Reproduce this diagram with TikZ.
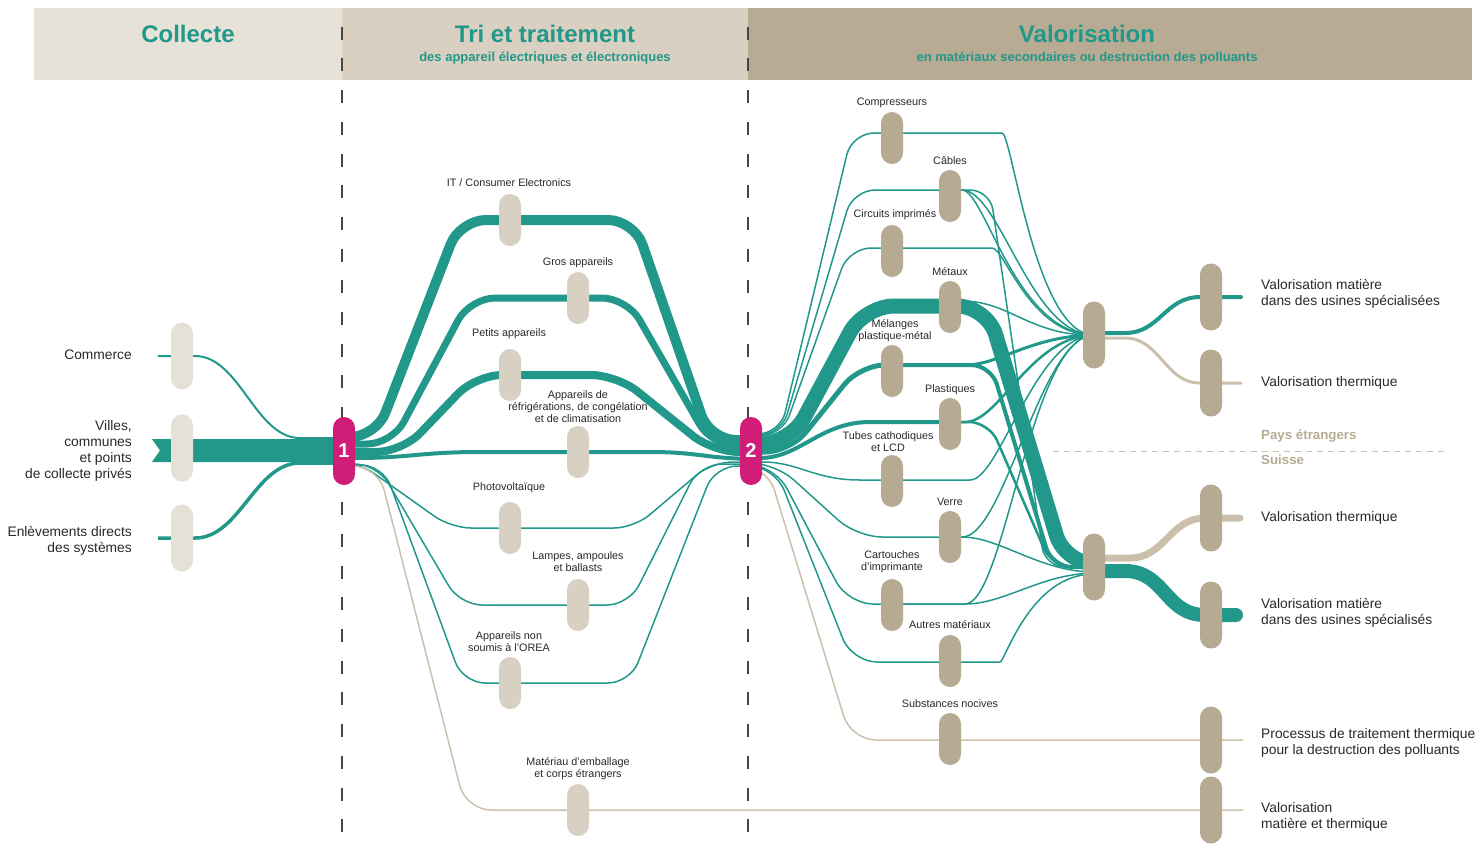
\documentclass[tikz,border=0pt]{standalone}
\usepackage{fontspec}
\setmainfont{Liberation Sans}
\usetikzlibrary{calc}
\definecolor{teal1}{RGB}{33,152,138}
\definecolor{pinkc}{RGB}{208,30,120}
\definecolor{hdA}{RGB}{230,226,215}
\definecolor{hdB}{RGB}{217,208,194}
\definecolor{hdC}{RGB}{184,171,148}
\definecolor{cpA}{RGB}{229,225,215}
\definecolor{cpB}{RGB}{216,208,194}
\definecolor{cpC}{RGB}{183,170,146}
\definecolor{beigeL}{RGB}{203,192,172}
\definecolor{beigeT}{RGB}{184,171,148}
\definecolor{txt}{RGB}{40,40,40}
\definecolor{dashc}{RGB}{70,70,70}
\pgfdeclarelayer{back}
\pgfdeclarelayer{mid}
\pgfsetlayers{back,mid,main}
\begin{document}
\begin{tikzpicture}[x=1pt,y=-1pt,
  pill/.style={rectangle, rounded corners=11pt, minimum width=22pt, minimum height=52pt, inner sep=0pt, draw=none},
  pillA/.style={pill, fill=cpA, minimum height=67pt},
  pillB/.style={pill, fill=cpB},
  pillC/.style={pill, fill=cpC},
  pillK/.style={pill, fill=cpC, minimum height=67pt},
  pinkn/.style={pill, fill=pinkc, minimum height=68pt, text=white, font=\bfseries\fontsize{20}{20}\selectfont},
  tflow/.style={draw=teal1, line width=#1, line join=round},
  tflow/.default=1.5,
  bflow/.style={draw=beigeL, line width=#1, line join=round},
  bflow/.default=1.5,
  slab/.style={font=\fontsize{10.8}{12}\selectfont, text=txt, align=center, inner sep=0pt},
  blabR/.style={font=\fontsize{13.8}{16}\selectfont, text=txt, align=right, anchor=east, inner sep=0pt},
  blabL/.style={font=\fontsize{13.8}{16}\selectfont, text=txt, align=left, anchor=west, inner sep=0pt},
  htitle/.style={font=\bfseries\fontsize{24}{24}\selectfont, text=teal1},
  hsub/.style={font=\bfseries\fontsize{13}{13}\selectfont, text=teal1}
]
\useasboundingbox (0,0) rectangle (1480,847);

% ---------- nodes ----------
\node[pillA] (cCom) at (182,356) {};
\node[pillA] (cVil) at (182,448) {};
\node[pillA] (cEnl) at (182,538) {};
\node[pinkn] (n1) at (344,451) {1};
\node[pinkn] (n2) at (751,451) {2};

\node[pillB] (tIT) at (510,220) {};
\node[pillB] (tGros) at (578,298) {};
\node[pillB] (tPetits) at (510,375) {};
\node[pillB] (tFrigo) at (578,452) {};
\node[pillB] (tPV) at (510,528) {};
\node[pillB] (tLamp) at (578,605) {};
\node[pillB] (tNon) at (510,683) {};
\node[pillB] (tEmb) at (578,810) {};

\node[pillC] (vComp) at (892,138) {};
\node[pillC] (vCab) at (950,196) {};
\node[pillC] (vCirc) at (892,251) {};
\node[pillC] (vMet) at (950,307) {};
\node[pillC] (vMel) at (892,371) {};
\node[pillC] (vPla) at (950,424) {};
\node[pillC] (vTub) at (892,481) {};
\node[pillC] (vVer) at (950,537) {};
\node[pillC] (vCar) at (892,605) {};
\node[pillC] (vAut) at (950,661) {};
\node[pillC] (vSub) at (950,739) {};

\node[pillK] (kUp) at (1094,335) {};
\node[pillK] (kLo) at (1094,567) {};

\node[pillK] (fUp1) at (1211,297) {};
\node[pillK] (fUp2) at (1211,383) {};
\node[pillK] (fLo1) at (1211,518) {};
\node[pillK] (fLo2) at (1211,615) {};
\node[pillK] (fPro) at (1211,740) {};
\node[pillK] (fVal) at (1211,810) {};

% ---------- labels ----------
\node[blabR] (lCom) at (132,355) {Commerce};
\node[blabR] (lVil) at (132,451) {Villes,\\communes\\et points\\de collecte privés};
\node[blabR] (lEnl) at (132,541) {Enlèvements directs\\des systèmes};

\node[slab] (lIT) at (509,183) {IT / Consumer Electronics};
\node[slab] (lGros) at (578,263) {Gros appareils};
\node[slab] (lPetits) at (509,334) {Petits appareils};
\node[slab] (lFrigo) at (578,407) {Appareils de\\réfrigérations, de congélation\\et de climatisation};
\node[slab] (lPV) at (509,488) {Photovoltaïque};
\node[slab] (lLamp) at (578,562) {Lampes, ampoules\\et ballasts};
\node[slab] (lNon) at (509,642) {Appareils non\\soumis à l’OREA};
\node[slab] (lEmb) at (578,769) {Matériau d’emballage\\et corps étrangers};

\node[slab] (lComp) at (892,103) {Compresseurs};
\node[slab] (lCab) at (950,161) {Câbles};
\node[slab] (lCirc) at (895,215) {Circuits imprimés};
\node[slab] (lMet) at (950,272) {Métaux};
\node[slab] (lMel) at (895,331) {Mélanges\\plastique-métal};
\node[slab] (lPla) at (950,390) {Plastiques};
\node[slab] (lTub) at (888,442) {Tubes cathodiques\\et LCD};
\node[slab] (lVer) at (950,502) {Verre};
\node[slab] (lCar) at (892,562) {Cartouches\\d’imprimante};
\node[slab] (lAut) at (950,625) {Autres matériaux};
\node[slab] (lSub) at (950,704) {Substances nocives};

\node[blabL] (rUp1) at (1261,294) {Valorisation matière\\dans des usines spécialisées};
\node[blabL] (rUp2) at (1261,383) {Valorisation thermique};
\node[blabL, text=beigeT, font=\bfseries\fontsize{13.3}{16}\selectfont] (rPays) at (1261,436) {Pays étrangers};
\node[blabL, text=beigeT, font=\bfseries\fontsize{13.3}{16}\selectfont] (rSui) at (1261,460) {Suisse};
\node[blabL] (rLo1) at (1261,518) {Valorisation thermique};
\node[blabL] (rLo2) at (1261,613) {Valorisation matière\\dans des usines spécialisés};
\node[blabL] (rPro) at (1261,743) {Processus de traitement thermique\\pour la destruction des polluants};
\node[blabL] (rVal) at (1261,817) {Valorisation\\matière et thermique};

% ---------- header ----------
\begin{pgfonlayer}{back}
\fill[hdA] (34,8) rectangle (342,80);
\fill[hdB] (342,8) rectangle (748,80);
\fill[hdC] (748,8) rectangle (1472,80);
\node[htitle] (h1) at (188,34) {Collecte};
\node[htitle] (h2) at (545,34) {Tri et traitement};
\node[hsub] (h2s) at (545,58) {des appareil électriques et électroniques};
\node[htitle] (h3) at (1087,34) {Valorisation};
\node[hsub] (h3s) at (1087,58) {en matériaux secondaires ou destruction des polluants};
\draw[dashc, line width=1.2, dash pattern=on 13pt off 18.7pt, dash phase=13pt] (342,8) -- (342,847);
\draw[dashc, line width=1.2, dash pattern=on 13pt off 18.7pt, dash phase=13pt] (748,8) -- (748,847);
\draw[beigeL, line width=1, dash pattern=on 6pt off 5pt] (1053,451) -- (1445,451);
\end{pgfonlayer}

% ---------- flows ----------
\begin{pgfonlayer}{mid}
% collecte
\fill[teal1] (152,439) -- ($(n1)+(-5,-12)$) -- ($(n1)+(-5,11)$) -- (152,462) -- (160,450.5) -- cycle;
\draw[tflow=2] (158,356) -- (cCom.center) -- (195,356) .. controls (240,356) and (255,438) .. (300,438) -- ($(n1)+(-5,-13)$);
\draw[tflow=3.5] (158,538) -- (cEnl.center) -- (195,538) .. controls (240,538) and (255,463) .. (300,463) -- ($(n1)+(-5,12)$);

% tri (each flow passes through its node on the horizontal stretch)
\draw[tflow=10, rounded corners=26pt] ($(n1)+(-10,-14)$) -- (376,437) -- (460,220) -- (634,220) -- (710,440) -- ($(n2)+(10,-11)$);
\draw[tflow=7, rounded corners=25pt] ($(n1)+(-10,-7)$) -- (392,444) -- (470,298) -- (627,298) -- (712,446) -- ($(n2)+(10,-5)$);
\draw[tflow=8, rounded corners=26pt] ($(n1)+(-10,1)$) -- (402,452) -- (476,375) -- (617,375) -- (713,452) -- ($(n2)+(10,1)$);
\draw[tflow=4] ($(n1)+(-10,7)$) -- (355,458) .. controls (410,458) and (420,452) .. (480,452) -- (650,452) .. controls (700,452) and (705,459) .. ($(n2)+(10,8)$);
\draw[tflow, rounded corners=20pt] ($(n1)+(-10,11)$) -- (358,462) -- (451,528) -- (634,528) -- (712,462) -- ($(n2)+(10,11)$);
\draw[tflow, rounded corners=22pt] ($(n1)+(-10,13)$) -- (377,464) -- (460,605) -- (629,605) -- (700,464) -- ($(n2)+(10,13)$);
\draw[tflow, rounded corners=22pt] ($(n1)+(-10,14)$) -- (383,465) -- (463,683) -- (630,683) -- (715,466) -- ($(n2)+(10,15)$);
\draw[bflow, rounded corners=25pt] ($(n1)+(-10,15)$) -- (378,466) -- (466,810) -- (1243,810);

% valorisation
\draw[tflow, rounded corners=22pt] ($(n2)+(-10,-17)$) -- (780,434) -- (852,133) -- (980,133) .. controls (1012,133) and (1035,335) .. (kUp.center);
\draw[tflow, rounded corners=22pt] ($(n2)+(-10,-16)$) -- (781,435) -- (853,190) -- (950,190);
\draw[tflow] (950,190) -- (962,190) .. controls (1000,190) and (1030,335) .. (kUp.center);
\draw[tflow] (950,190) -- (962,190) .. controls (985,190) and (1015,334) .. (kUp.center);
\draw[tflow, rounded corners=20pt] (950,190) -- (990,190) -- (1045,567) -- ($(kLo)+(5,0)$);
\draw[tflow, rounded corners=22pt] ($(n2)+(-10,-15)$) -- (782,436) -- (849,248) -- (970,248) .. controls (1005,248) and (1030,336) .. (kUp.center);
\draw[tflow=15, rounded corners=30pt] ($(n2)+(-10,-7)$) -- (790,444) -- (864,306) -- (987,306) -- (1065,564) -- ($(kLo)+(5,-3)$);
\draw[tflow] (950,301) -- (962,301) .. controls (1010,301) and (1030,336) .. (kUp.center);
\draw[tflow=5, rounded corners=25pt] ($(n2)+(-10,1)$) -- (790,452) -- (860,365) -- (892,365);
\draw[tflow=3] (892,365) -- (965,365) .. controls (1000,365) and (1030,336) .. (kUp.center);
\draw[tflow=4, rounded corners=20pt] (892,365) -- (991,365) -- (1052,567) -- ($(kLo)+(5,0)$);
\draw[tflow=4] ($(n2)+(-10,7)$) -- (760,458) .. controls (800,458) and (820,422) .. (870,422) -- (950,422);
\draw[tflow=2.5] (950,422) -- (965,422) .. controls (1000,422) and (1030,336) .. (kUp.center);
\draw[tflow=2.5, rounded corners=20pt] (950,422) -- (989,422) -- (1052,567) -- ($(kLo)+(5,0)$);
\draw[tflow] ($(n2)+(-10,11)$) -- (765,462) .. controls (800,463) and (815,480) .. (860,480) -- (970,480) .. controls (1000,480) and (1035,336) .. (kUp.center);
\draw[tflow, rounded corners=25pt] ($(n2)+(-10,12)$) -- (775,463) -- (857,537) -- (950,537);
\draw[tflow] (950,537) -- (962,537) .. controls (1005,537) and (1040,336) .. (kUp.center);
\draw[tflow] (950,537) -- (962,537) .. controls (1000,537) and (1040,572) .. ($(kLo)+(0,5)$);
\draw[tflow, rounded corners=25pt] ($(n2)+(-10,13)$) -- (775,466) -- (848,604) -- (892,604);
\draw[tflow] (892,604) -- (965,604) .. controls (1005,604) and (1030,336) .. (kUp.center);
\draw[tflow] (892,604) -- (965,604) .. controls (1005,604) and (1040,574) .. ($(kLo)+(0,6)$);
\draw[tflow, rounded corners=25pt] ($(n2)+(-10,14)$) -- (775,467) -- (852,662) -- (975,662) .. controls (1005,662) and (1030,574) .. ($(kLo)+(0,7)$);
\draw[bflow, rounded corners=25pt] ($(n2)+(-10,15)$) -- (767,466) -- (851,740) -- (1243,740);

% collectors to final
\draw[tflow=4, line cap=round] ($(kUp)+(0,-2)$) -- (1125,333) .. controls (1160,333) and (1165,297) .. (1200,297) -- (fUp1.center) -- (1241,297);
\draw[bflow=3, line cap=round] ($(kUp)+(0,3)$) -- (1125,338) .. controls (1160,338) and (1165,383) .. (1200,383) -- (fUp2.center) -- (1241,383);
\draw[bflow=7, line cap=round] ($(kLo)+(0,-9)$) -- (1130,558) .. controls (1165,558) and (1170,518) .. (1205,518) -- (fLo1.center) -- (1240,518);
\draw[tflow=14, line cap=round] ($(kLo)+(0,4)$) -- (1125,571) .. controls (1165,571) and (1165,615) .. (1205,615) -- (fLo2.center) -- (1236,615);
\end{pgfonlayer}
\end{tikzpicture}
\end{document}
